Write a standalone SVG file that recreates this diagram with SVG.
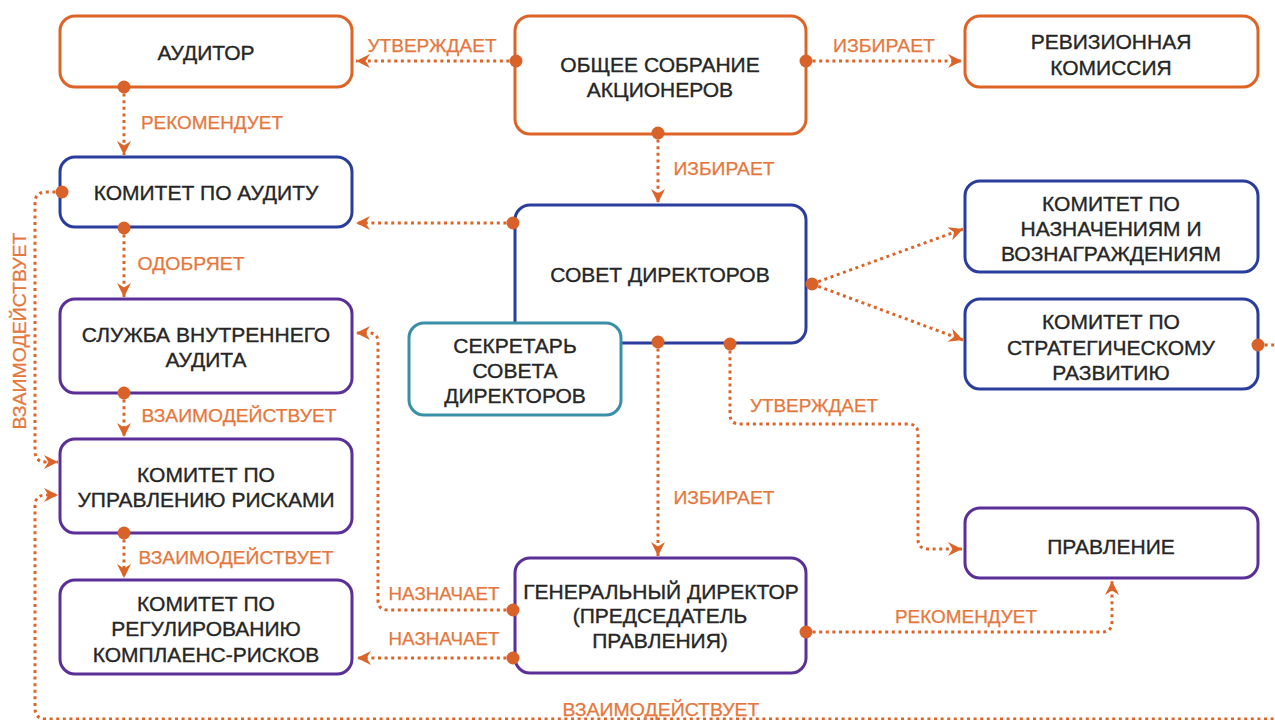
<svg xmlns="http://www.w3.org/2000/svg" width="1275" height="720" viewBox="0 0 1275 720">
<defs>
<style>
.box{fill:#fff;stroke-width:3}
.or{stroke:#dd6426}
.bl{stroke:#2b3d9c}
.pu{stroke:#5a2f97}
.te{stroke:#3a8fa8}
.t{font-family:"Liberation Sans",Arial,sans-serif;font-size:21px;fill:#262626;stroke:#262626;stroke-width:0.35;text-anchor:middle}
.lb{font-family:"Liberation Sans",Arial,sans-serif;font-size:18px;fill:#e5773d;stroke:#e5773d;stroke-width:0.25;text-anchor:middle}
.c{fill:none;stroke:#dc6428;stroke-width:3;stroke-dasharray:3 3.6}
.d{fill:#d9622b}
</style>
<marker id="ah" markerUnits="userSpaceOnUse" markerWidth="15" markerHeight="14" refX="14" refY="7" orient="auto">
<path d="M0,0 L14,7 L0,14 L4.5,7 Z" fill="#dc6428"/>
</marker>
</defs>
<rect width="1275" height="720" fill="#fff"/>

<g id="auditor"><rect class="box or" x="60" y="16" width="292" height="71" rx="15"/><text class="t" x="206" y="59.5">АУДИТОР</text></g>
<g id="obshchee"><rect class="box or" x="515" y="16" width="291" height="118" rx="15"/><text class="t" x="660" y="71.5">ОБЩЕЕ СОБРАНИЕ</text><text class="t" x="660" y="96.5">АКЦИОНЕРОВ</text></g>
<g id="revizion"><rect class="box or" x="965" y="16" width="293" height="71" rx="15"/><text class="t" x="1111" y="48.5">РЕВИЗИОННАЯ</text><text class="t" x="1111" y="74.5">КОМИССИЯ</text></g>
<g id="kom-audit"><rect class="box bl" x="60" y="157" width="292" height="70" rx="15"/><text class="t" x="206" y="199.5">КОМИТЕТ ПО АУДИТУ</text></g>
<g id="sovet"><rect class="box bl" x="515" y="205" width="291" height="138" rx="15"/><text class="t" x="660" y="281.5">СОВЕТ ДИРЕКТОРОВ</text></g>
<g id="sekretar"><rect class="box te" x="409" y="323" width="212" height="92" rx="15"/><text class="t" x="515" y="352.5">СЕКРЕТАРЬ</text><text class="t" x="515" y="377.5">СОВЕТА</text><text class="t" x="515" y="402.5">ДИРЕКТОРОВ</text></g>
<g id="kom-nazn"><rect class="box bl" x="965" y="181" width="293" height="91" rx="15"/><text class="t" x="1111" y="210.5">КОМИТЕТ ПО</text><text class="t" x="1111" y="235.5">НАЗНАЧЕНИЯМ И</text><text class="t" x="1111" y="260.5">ВОЗНАГРАЖДЕНИЯМ</text></g>
<g id="kom-strat"><rect class="box bl" x="965" y="299" width="293" height="90" rx="15"/><text class="t" x="1111" y="328.5">КОМИТЕТ ПО</text><text class="t" x="1111" y="354.5">СТРАТЕГИЧЕСКОМУ</text><text class="t" x="1111" y="379.5">РАЗВИТИЮ</text></g>
<g id="sluzhba"><rect class="box pu" x="60" y="299" width="292" height="94" rx="15"/><text class="t" x="206" y="341.5">СЛУЖБА ВНУТРЕННЕГО</text><text class="t" x="206" y="366.5">АУДИТА</text></g>
<g id="kom-risk"><rect class="box pu" x="60" y="439" width="292" height="94" rx="15"/><text class="t" x="206" y="481.5">КОМИТЕТ ПО</text><text class="t" x="206" y="506.5">УПРАВЛЕНИЮ РИСКАМИ</text></g>
<g id="kom-compl"><rect class="box pu" x="60" y="580" width="292" height="94" rx="15"/><text class="t" x="206" y="610.5">КОМИТЕТ ПО</text><text class="t" x="206" y="635.5">РЕГУЛИРОВАНИЮ</text><text class="t" x="206" y="661.5">КОМПЛАЕНС-РИСКОВ</text></g>
<g id="gendir"><rect class="box pu" x="515" y="558" width="291" height="115" rx="15"/><text class="t" x="661" y="598.5">ГЕНЕРАЛЬНЫЙ ДИРЕКТОР</text><text class="t" x="660" y="622.5">(ПРЕДСЕДАТЕЛЬ</text><text class="t" x="660" y="647.5">ПРАВЛЕНИЯ)</text></g>
<g id="pravlenie"><rect class="box pu" x="965" y="508" width="293" height="70" rx="15"/><text class="t" x="1111" y="553.5">ПРАВЛЕНИЕ</text></g>

<g id="connectors">
<path class="c" marker-end="url(#ah)" d="M516,61 L356,61"/>
<path class="c" marker-end="url(#ah)" d="M806,61 L962,61"/>
<path class="c" marker-end="url(#ah)" d="M124,87 L124,155"/>
<path class="c" marker-end="url(#ah)" d="M658,133 L658,203"/>
<path class="c" marker-end="url(#ah)" d="M513,223 L356,223"/>
<path class="c" marker-end="url(#ah)" d="M124,228 L124,297"/>
<path class="c" marker-end="url(#ah)" d="M62,192 L46,192 Q35,192 35,203 L35,451 Q35,462 46,462 L58,462"/>
<path class="c" marker-end="url(#ah)" d="M124,393 L124,437"/>
<path class="c" marker-end="url(#ah)" d="M124,533 L124,578"/>
<path class="c" marker-end="url(#ah)" d="M812,284 L963,229"/>
<path class="c" marker-end="url(#ah)" d="M812,284 L963,340"/>
<path class="c" marker-end="url(#ah)" d="M658,342 L658,556"/>
<path class="c" marker-end="url(#ah)" d="M730,344 L730,414 Q730,424 740,424 L908,424 Q918,424 918,434 L918,539 Q918,549 928,549 L962,549"/>
<path class="c" marker-end="url(#ah)" d="M513,610 L388,610 Q378,610 378,600 L378,342 Q378,333 369,333 L356,333"/>
<path class="c" marker-end="url(#ah)" d="M513,658 L357,658"/>
<path class="c" marker-end="url(#ah)" d="M806,632 L1102,632 Q1112,632 1112,622 L1112,581"/>
<path class="c" marker-end="url(#ah)" d="M1258,345 L1290,345 L1290,719 L46,719 Q35,719 35,708 L35,506 Q35,495 46,495 L58,495"/>
<circle class="d" cx="516" cy="61" r="6.5"/>
<circle class="d" cx="806" cy="61" r="6.5"/>
<circle class="d" cx="124" cy="87" r="6.5"/>
<circle class="d" cx="658" cy="133" r="6.5"/>
<circle class="d" cx="513" cy="223" r="6.5"/>
<circle class="d" cx="124" cy="228" r="6.5"/>
<circle class="d" cx="62" cy="192" r="6.5"/>
<circle class="d" cx="124" cy="393" r="6.5"/>
<circle class="d" cx="124" cy="533" r="6.5"/>
<circle class="d" cx="812" cy="284" r="6.5"/>
<circle class="d" cx="658" cy="342" r="6.5"/>
<circle class="d" cx="730" cy="344" r="6.5"/>
<circle class="d" cx="513" cy="610" r="6.5"/>
<circle class="d" cx="513" cy="658" r="6.5"/>
<circle class="d" cx="806" cy="632" r="6.5"/>
<circle class="d" cx="1258" cy="345" r="6.5"/>
<text class="lb" x="432" y="51.5" textLength="129" lengthAdjust="spacingAndGlyphs">УТВЕРЖДАЕТ</text>
<text class="lb" x="884" y="51.5" textLength="102" lengthAdjust="spacingAndGlyphs">ИЗБИРАЕТ</text>
<text class="lb" x="212" y="128.5" textLength="142" lengthAdjust="spacingAndGlyphs">РЕКОМЕНДУЕТ</text>
<text class="lb" x="724" y="174.5" textLength="101" lengthAdjust="spacingAndGlyphs">ИЗБИРАЕТ</text>
<text class="lb" x="191" y="269.5" textLength="107" lengthAdjust="spacingAndGlyphs">ОДОБРЯЕТ</text>
<text class="lb" x="239" y="421.5" textLength="195" lengthAdjust="spacingAndGlyphs">ВЗАИМОДЕЙСТВУЕТ</text>
<text class="lb" x="236" y="563.5" textLength="195" lengthAdjust="spacingAndGlyphs">ВЗАИМОДЕЙСТВУЕТ</text>
<text class="lb" transform="translate(25.5,331) rotate(-90)" x="0" y="0" textLength="197" lengthAdjust="spacingAndGlyphs">ВЗАИМОДЕЙСТВУЕТ</text>
<text class="lb" x="814" y="411.5" textLength="128" lengthAdjust="spacingAndGlyphs">УТВЕРЖДАЕТ</text>
<text class="lb" x="724" y="503.5" textLength="101" lengthAdjust="spacingAndGlyphs">ИЗБИРАЕТ</text>
<text class="lb" x="444" y="599.5" textLength="111" lengthAdjust="spacingAndGlyphs">НАЗНАЧАЕТ</text>
<text class="lb" x="444" y="644.5" textLength="111" lengthAdjust="spacingAndGlyphs">НАЗНАЧАЕТ</text>
<text class="lb" x="966" y="622.5" textLength="142" lengthAdjust="spacingAndGlyphs">РЕКОМЕНДУЕТ</text>
<text class="lb" x="661" y="715.5" textLength="197" lengthAdjust="spacingAndGlyphs">ВЗАИМОДЕЙСТВУЕТ</text>
</g>
</svg>
